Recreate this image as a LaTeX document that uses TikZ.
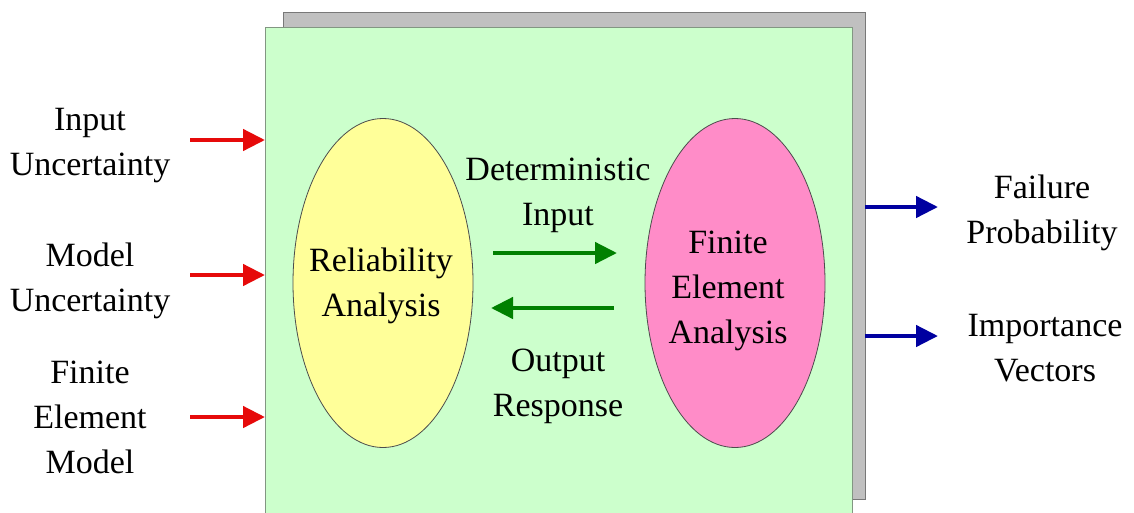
\documentclass[tikz,border=0pt]{standalone}
\usepackage{fontspec}
\setmainfont{Liberation Serif}
\usetikzlibrary{arrows.meta,shapes.geometric}
\definecolor{panel}{RGB}{204,255,204}
\definecolor{panelEdge}{RGB}{130,150,130}
\definecolor{shade}{RGB}{192,192,192}
\definecolor{shadeEdge}{RGB}{120,120,120}
\definecolor{relfill}{RGB}{255,255,153}
\definecolor{femfill}{RGB}{255,140,200}
\definecolor{inred}{RGB}{230,10,10}
\definecolor{flowgreen}{RGB}{0,128,0}
\definecolor{outblue}{RGB}{0,0,160}
\tikzset{
  lbl/.style={align=center,font=\fontsize{34}{45}\selectfont,inner sep=0pt},
  blob/.style={ellipse,draw=black!70,line width=0.8pt,inner sep=0pt},
  fat/.style={line width=4.5pt,-{Triangle[length=22pt,width=21pt]}},
}
\begin{document}
\begin{tikzpicture}[x=1pt,y=-1pt]
\clip (0,0) rectangle (1134,512);
\fill[white] (0,0) rectangle (1134,512);
% back sheet and main panel
\draw[fill=shade,draw=shadeEdge,line width=1pt] (283,12) rectangle (865,499);
\draw[fill=panel,draw=panelEdge,line width=1pt] (265,27) rectangle (852,530);
\coordinate (panelW) at (265,0);
\coordinate (panelE) at (865,0);
% the two analysis ellipses
\node[blob,fill=relfill,minimum width=180pt,minimum height=329pt] (rel) at (383,283) {};
\node[blob,fill=femfill,minimum width=180pt,minimum height=329pt] (fem) at (735,283) {};
\node[lbl] (reltxt) at (381,286) {Reliability\\Analysis};
\node[lbl] (femtxt) at (728,291) {Finite\\Element\\Analysis};
% exchange between the two analyses
\node[lbl] (detin) at (558,195) {Deterministic\\Input};
\node[lbl] (outresp) at (558,386) {Output\\Response};
\coordinate (g1a) at (493,253);
\coordinate (g1b) at (617,253);
\coordinate (g2a) at (614,308);
\coordinate (g2b) at (491,308);
\draw[fat,flowgreen] (g1a) -- (g1b);
\draw[fat,flowgreen] (g2a) -- (g2b);
% inputs on the left
\node[lbl] (in1) at (90,146) {Input\\Uncertainty};
\node[lbl] (in2) at (90,281) {Model\\Uncertainty};
\node[lbl] (in3) at (90,417) {Finite\\Element\\Model};
\coordinate (r1) at (190,140);
\coordinate (r2) at (190,275);
\coordinate (r3) at (190,417);
\draw[fat,inred] (r1) -- (r1 -| panelW);
\draw[fat,inred] (r2) -- (r2 -| panelW);
\draw[fat,inred] (r3) -- (r3 -| panelW);
% outputs on the right
\node[lbl] (out1) at (1042,213) {Failure\\Probability};
\node[lbl] (out2) at (1045,348) {Importance\\Vectors};
\coordinate (b1) at (938,207);
\coordinate (b2) at (938,336);
\draw[fat,outblue] (b1 -| panelE) -- (b1);
\draw[fat,outblue] (b2 -| panelE) -- (b2);
\end{tikzpicture}
\end{document}
